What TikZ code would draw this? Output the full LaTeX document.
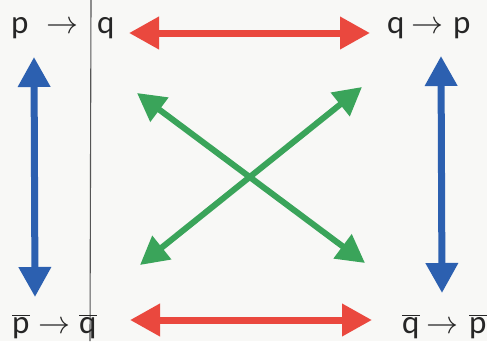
\RequirePackage{fix-cm}
\documentclass[tikz,border=0pt]{standalone}
\usepackage{fontspec}
\setmainfont{Carlito}
\usetikzlibrary{arrows.meta}
\definecolor{redA}{RGB}{234,72,62}
\definecolor{blueA}{RGB}{44,96,176}
\definecolor{greenA}{RGB}{58,164,90}
\definecolor{bgA}{RGB}{248,248,246}
\definecolor{lineA}{RGB}{85,85,85}
\tikzset{
  lbl/.style={anchor=base west, inner sep=0pt, font=\fontsize{33}{36}\selectfont, text=black!85},
  arw/.style={anchor=base west, inner sep=0pt, font=\fontsize{32}{36}\selectfont, text=black!85},
  big/.style={line width=7pt, {Triangle[length=30pt,width=31pt]}-{Triangle[length=30pt,width=31pt]}},
  gbig/.style={line width=6pt, {Triangle[length=28pt,width=29pt]}-{Triangle[length=28pt,width=29pt]}}
}
\newcommand{\barred}[1]{$\overline{\mbox{#1}}$}
\begin{document}
\begin{tikzpicture}[x=1pt,y=-1pt]
\fill[bgA] (0,0) rectangle (487,341);
\useasboundingbox (0,0) rectangle (487,341);
% vertical line
\coordinate (vt) at (91,0);
\coordinate (vb) at (90,341);
\draw[lineA, line width=1.1pt] (vt) -- (vb);
% texts top-left
\node[lbl] (tlp) at (11,33) {p};
\node[arw] (tla) at (46,33) {$\rightarrow$};
\node[lbl] (tlq) at (97,33) {q};
% top-right
\node[lbl] (trq) at (387,33) {q};
\node[arw] (tra) at (411,33) {$\rightarrow$};
\node[lbl] (trp) at (453,33) {p};
% bottom-left
\node[lbl] (blp) at (12,333) {\barred{p}};
\node[arw] (bla) at (38,333) {$\rightarrow$};
\node[lbl] (blq) at (79,333) {\barred{q}};
% bottom-right
\node[lbl] (brq) at (402,333) {\barred{q}};
\node[arw] (bra) at (426,333) {$\rightarrow$};
\node[lbl] (brp) at (469,333) {\barred{p}};
% arrow endpoints
\coordinate (rt1) at (129,33);
\coordinate (rt2) at (370,33);
\coordinate (rb1) at (130,320);
\coordinate (rb2) at (372,320);
\coordinate (bl1) at (34,57);
\coordinate (bl2) at (35,297);
\coordinate (br1) at (441,56);
\coordinate (br2) at (442,293);
\coordinate (g1a) at (137,93);
\coordinate (g1b) at (365,263);
\coordinate (g2a) at (140,265);
\coordinate (g2b) at (362,87);
\draw[big, redA] (rt1) -- (rt2);
\draw[big, redA] (rb1) -- (rb2);
\draw[big, blueA] (bl1) -- (bl2);
\draw[big, blueA] (br1) -- (br2);
\draw[gbig, greenA] (g1a) -- (g1b);
\draw[gbig, greenA] (g2a) -- (g2b);
\end{tikzpicture}
\end{document}
